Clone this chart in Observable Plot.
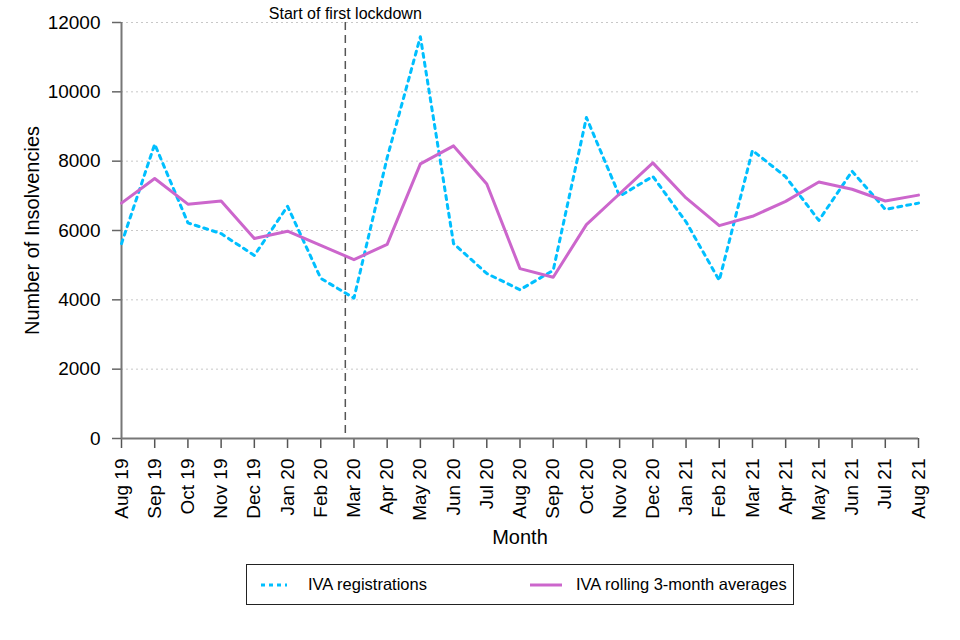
<!DOCTYPE html>
<html>
<head>
<meta charset="utf-8">
<script src="https://cdn.jsdelivr.net/npm/d3@7"></script>
<script src="https://cdn.jsdelivr.net/npm/@observablehq/plot@0.6"></script>
<style>
  body { margin: 0; background: #fff; font-family: "Liberation Sans", Arial, sans-serif; }
  #wrap { position: relative; width: 960px; height: 640px; }
  #legend { position: absolute; left: 246px; top: 564px; width: 548px; height: 41px; border: 1px solid #222; box-sizing: border-box; font-size: 16.5px; color: #000; }
  .item { position: absolute; top: 0; height: 39px; display: flex; align-items: center; }
</style>
</head>
<body>
<div id="wrap">
  <div id="chart"></div>
  <div id="legend">
    <div class="item" style="left:13px"><svg width="28" height="6" style="margin-right:20px"><line x1="1" y1="3" x2="27" y2="3" stroke="#00BFFF" stroke-width="3" stroke-dasharray="4 4"/></svg>IVA registrations</div>
    <div class="item" style="left:283px"><svg width="32" height="6" style="margin-right:14px"><line x1="0" y1="3" x2="32" y2="3" stroke="#CC66CC" stroke-width="3"/></svg>IVA rolling 3-month averages</div>
  </div>
</div>
<script>
const months = ["Aug 19","Sep 19","Oct 19","Nov 19","Dec 19","Jan 20","Feb 20","Mar 20","Apr 20","May 20","Jun 20","Jul 20","Aug 20","Sep 20","Oct 20","Nov 20","Dec 20","Jan 21","Feb 21","Mar 21","Apr 21","May 21","Jun 21","Jul 21","Aug 21"];
const registrations = [5620, 8490, 6220, 5910, 5280, 6700, 4620, 4050, 8100, 11590, 5620, 4760, 4290, 4850, 9260, 6990, 7560, 6250, 4560, 8310, 7550, 6290, 7710, 6610, 6790];
const rolling = [6790, 7500, 6760, 6850, 5770, 5980, 5570, 5160, 5600, 7920, 8440, 7340, 4900, 4650, 6170, 7060, 7950, 6940, 6140, 6410, 6840, 7400, 7190, 6850, 7020];
const yTicks = [0, 2000, 4000, 6000, 8000, 10000, 12000];
const lockdownPos = 6.74;
const lockdownLabel = "Start of first lockdown";

const regData = months.map((m, i) => ({i, v: registrations[i]}));
const rollData = months.map((m, i) => ({i, v: rolling[i]}));

const chart = Plot.plot({
  width: 960,
  height: 550,
  marginTop: 22,
  marginLeft: 121,
  marginRight: 42,
  marginBottom: 112,
  style: {fontFamily: "Liberation Sans, Arial, sans-serif", fontSize: "19px", color: "#000", background: "#fff"},
  x: {domain: [0, 24]},
  y: {domain: [0, 12000]},
  marks: [
    Plot.gridY(yTicks.slice(1), {stroke: "#c8c8c8", strokeOpacity: 1, strokeDasharray: "2 3", strokeWidth: 1}),
    Plot.axisY({ticks: yTicks, tickFormat: d3.format("d"), tickSize: 9, tickPadding: 12, stroke: "#666", strokeWidth: 1.5, fontSize: 19, label: null}),
    Plot.axisY({ticks: [], tickSize: 0, fontSize: 20,
      label: "Number of Insolvencies", labelAnchor: "center", labelArrow: "none", labelOffset: 97}),
    Plot.axisX({ticks: d3.range(0, 25), tickFormat: i => months[i], tickRotate: -90, tickSize: 10, tickPadding: 10, stroke: "#555", strokeWidth: 1.5, fontSize: 19, label: null}),
    Plot.axisX({ticks: [], tickSize: 0, fontSize: 20,
      label: "Month", labelAnchor: "center", labelArrow: "none", labelOffset: 105}),
    Plot.ruleY([0], {stroke: "#777", strokeWidth: 2}),
    Plot.ruleX([0], {stroke: "#777", strokeWidth: 2}),
    Plot.ruleX([lockdownPos], {stroke: "#555", strokeWidth: 1.5, strokeDasharray: "8 5"}),
    Plot.text([lockdownLabel], {x: lockdownPos, frameAnchor: "top", lineAnchor: "bottom", dy: -4, text: d => d, fontSize: 16, fill: "#000"}),
    Plot.line(regData, {x: "i", y: "v", stroke: "#00BFFF", strokeWidth: 3, strokeDasharray: "4 5"}),
    Plot.line(rollData, {x: "i", y: "v", stroke: "#CC66CC", strokeWidth: 3})
  ]
});
document.getElementById("chart").appendChild(chart);
</script>
</body>
</html>
